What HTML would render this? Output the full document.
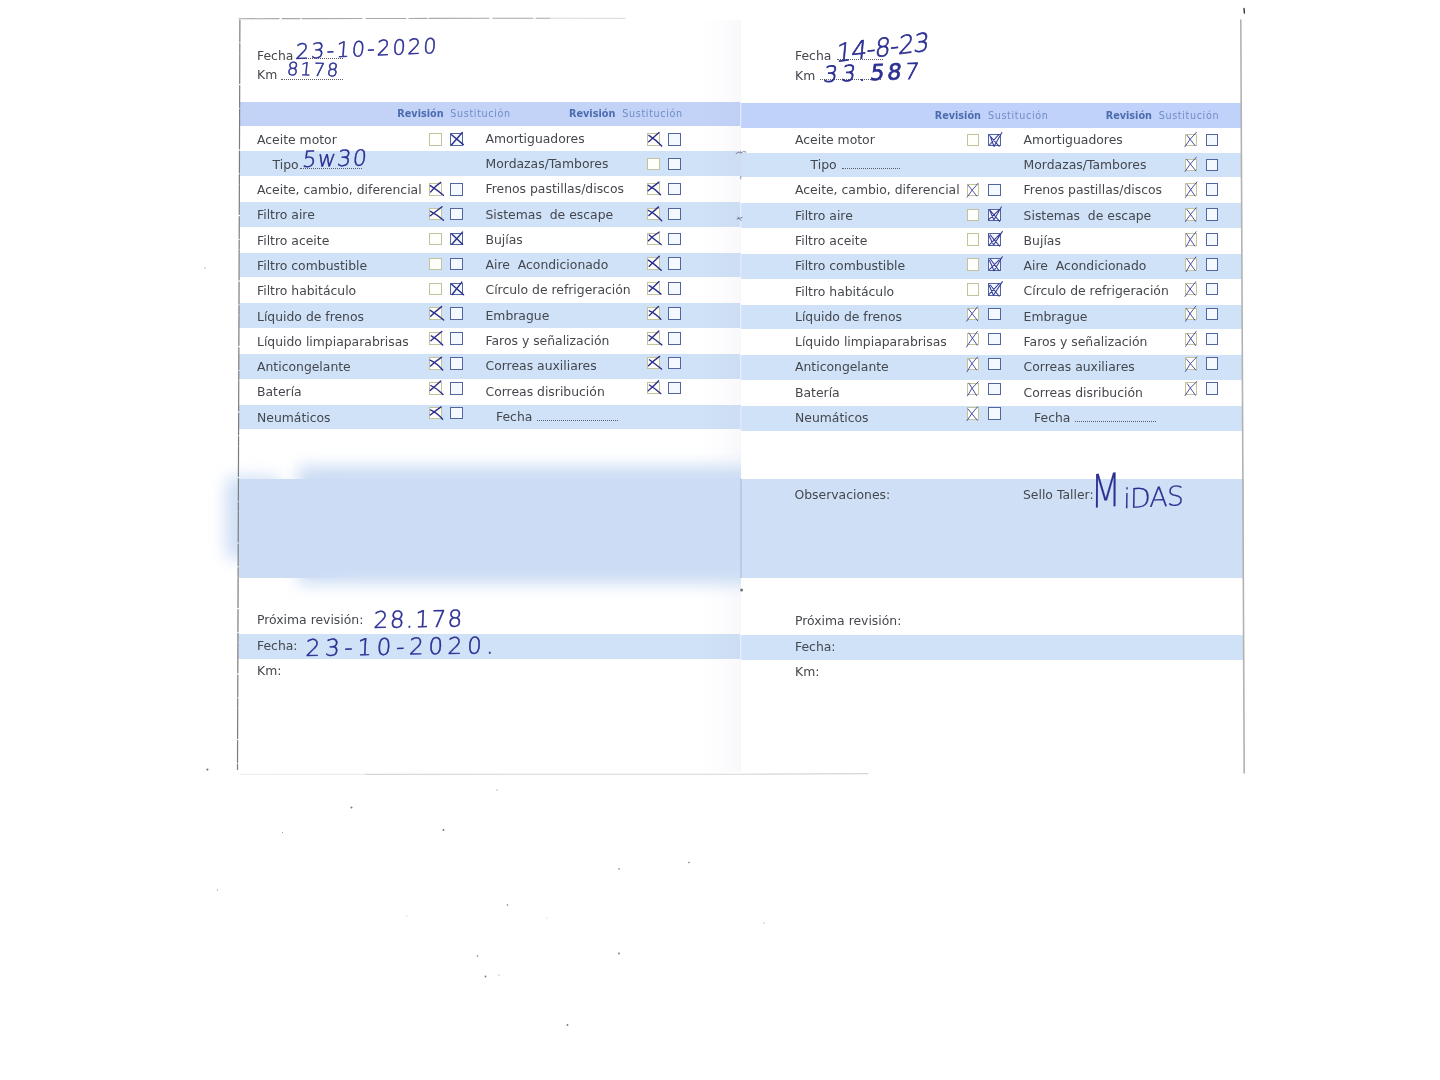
<!DOCTYPE html>
<html lang="es"><head><meta charset="utf-8"><title>Libro de mantenimiento</title>
<style>
html,body{margin:0;padding:0;background:#fff;}
body{width:1440px;height:1080px;position:relative;overflow:hidden;font-family:"DejaVu Sans","Liberation Sans",sans-serif;color:#44474d;}
.b{position:absolute;}
.hd{background:#c3d3f8;}
.rw{background:#d0e2f7;}
.ob{background:#cfe0f6;}
.t{position:absolute;white-space:nowrap;font-size:12.4px;line-height:20px;height:20px;}
.rv{position:absolute;white-space:nowrap;font-size:9.7px;line-height:14px;font-weight:bold;color:#4a6cae;}
.su{position:absolute;white-space:nowrap;font-size:9.6px;line-height:14px;color:#6f8cc6;letter-spacing:0.65px;}
.cb{position:absolute;width:10.5px;height:10.5px;box-sizing:content-box;}
.cr{border:1.2px solid #c3c29a;background:#fffffb;}
.cs{border:1.3px solid #53659f;background:#f4f9ff;}
.hw{position:absolute;white-space:nowrap;color:#2b2f92;font-weight:200;-webkit-text-stroke:0.55px #2b2f92;font-family:"DejaVu Sans","Liberation Sans",sans-serif;transform-origin:0 100%;}
.dots{position:absolute;border-bottom:1.4px dotted #5a5c66;height:0;}
svg{position:absolute;left:0;top:0;}
</style></head><body>

<div class="b hd" style="left:239.9px;top:101.8px;width:500.6px;height:24.7px;"></div>
<div class="b hd" style="left:740.5px;top:103.0px;width:501.0px;height:24.7px;background:#c1d2fa;"></div>
<div class="b rw" style="left:239.8px;top:151.3px;width:500.7px;height:24.8px;"></div>
<div class="b rw" style="left:740.5px;top:152.5px;width:501.0px;height:24.8px;"></div>
<div class="b rw" style="left:239.6px;top:202.0px;width:500.9px;height:24.8px;"></div>
<div class="b rw" style="left:740.5px;top:203.2px;width:501.3px;height:24.8px;"></div>
<div class="b rw" style="left:239.5px;top:252.7px;width:501.0px;height:24.8px;"></div>
<div class="b rw" style="left:740.5px;top:253.9px;width:501.6px;height:24.8px;"></div>
<div class="b rw" style="left:239.3px;top:303.4px;width:501.2px;height:24.8px;"></div>
<div class="b rw" style="left:740.5px;top:304.6px;width:501.9px;height:24.8px;"></div>
<div class="b rw" style="left:239.1px;top:354.1px;width:501.4px;height:24.8px;"></div>
<div class="b rw" style="left:740.5px;top:355.3px;width:502.2px;height:24.8px;"></div>
<div class="b rw" style="left:239.0px;top:404.7px;width:501.5px;height:24.8px;"></div>
<div class="b rw" style="left:740.5px;top:405.9px;width:502.5px;height:24.8px;"></div>
<div class="b ob" style="left:740.5px;top:478.8px;width:503.0px;height:99.6px;"></div>
<div class="b rw" style="left:238.2px;top:634.4px;width:502.3px;height:24.4px;"></div>
<div class="b rw" style="left:740.5px;top:635.3px;width:503.5px;height:24.8px;"></div>
<div class="b" style="left:700px;top:20px;width:41px;height:752px;background:linear-gradient(to right,rgba(110,110,170,0) 0,rgba(120,110,175,0.02) 55%,rgba(105,105,170,0.045) 100%);"></div>
<div class="b" style="left:205px;top:430px;width:536px;height:190px;overflow:hidden;"><div class="b" style="left:93px;top:36px;width:520px;height:118px;background:#cbdcf4;filter:blur(8px);"></div><div class="b" style="left:20px;top:46px;width:56px;height:84px;background:#cbdcf4;filter:blur(8px);border-radius:12px;opacity:0.9;"></div><div class="b" style="left:34px;top:49px;width:120px;height:98.5px;background:linear-gradient(to right,#cbdcf4 0,#cbdcf4 55%,rgba(203,220,244,0) 100%);"></div></div>
<div class="t" style="left:257.0px;top:45.5px;">Fecha</div>
<div class="t" style="left:257.0px;top:65.0px;">Km</div>
<div class="rv" style="left:397.3px;top:107.2px;">Revisión</div>
<div class="su" style="left:450.3px;top:107.2px;">Sustitución</div>
<div class="rv" style="left:569.0px;top:107.2px;">Revisión</div>
<div class="su" style="left:622.3px;top:107.2px;">Sustitución</div>
<div class="t" style="left:257.0px;top:129.5px;">Aceite motor</div>
<div class="t" style="left:485.5px;top:128.6px;">Amortiguadores</div>
<div class="cb cr" style="left:429.3px;top:133.2px"></div>
<div class="cb cs" style="left:450.2px;top:133.2px"></div>
<div class="cb cr" style="left:647.2px;top:133.0px"></div>
<div class="cb cs" style="left:668.4px;top:133.0px"></div>
<div class="t" style="left:272.5px;top:154.8px;">Tipo</div>
<div class="t" style="left:485.5px;top:153.9px;">Mordazas/Tambores</div>
<div class="cb cr" style="left:647.2px;top:157.9px"></div>
<div class="cb cs" style="left:668.4px;top:157.9px"></div>
<div class="t" style="left:257.0px;top:180.1px;">Aceite, cambio, diferencial</div>
<div class="t" style="left:485.5px;top:179.2px;">Frenos pastillas/discos</div>
<div class="cb cr" style="left:429.3px;top:183.0px"></div>
<div class="cb cs" style="left:450.2px;top:183.0px"></div>
<div class="cb cr" style="left:647.2px;top:182.8px"></div>
<div class="cb cs" style="left:668.4px;top:182.8px"></div>
<div class="t" style="left:257.0px;top:205.4px;">Filtro aire</div>
<div class="t" style="left:485.5px;top:204.5px;">Sistemas&nbsp; de escape</div>
<div class="cb cr" style="left:429.3px;top:207.8px"></div>
<div class="cb cs" style="left:450.2px;top:207.8px"></div>
<div class="cb cr" style="left:647.2px;top:207.6px"></div>
<div class="cb cs" style="left:668.4px;top:207.6px"></div>
<div class="t" style="left:257.0px;top:230.7px;">Filtro aceite</div>
<div class="t" style="left:485.5px;top:229.8px;">Bujías</div>
<div class="cb cr" style="left:429.3px;top:232.7px"></div>
<div class="cb cs" style="left:450.2px;top:232.7px"></div>
<div class="cb cr" style="left:647.2px;top:232.5px"></div>
<div class="cb cs" style="left:668.4px;top:232.5px"></div>
<div class="t" style="left:257.0px;top:255.9px;">Filtro combustible</div>
<div class="t" style="left:485.5px;top:255.1px;">Aire&nbsp; Acondicionado</div>
<div class="cb cr" style="left:429.3px;top:257.6px"></div>
<div class="cb cs" style="left:450.2px;top:257.6px"></div>
<div class="cb cr" style="left:647.2px;top:257.4px"></div>
<div class="cb cs" style="left:668.4px;top:257.4px"></div>
<div class="t" style="left:257.0px;top:281.2px;">Filtro habitáculo</div>
<div class="t" style="left:485.5px;top:280.3px;">Círculo de refrigeración</div>
<div class="cb cr" style="left:429.3px;top:282.5px"></div>
<div class="cb cs" style="left:450.2px;top:282.5px"></div>
<div class="cb cr" style="left:647.2px;top:282.3px"></div>
<div class="cb cs" style="left:668.4px;top:282.3px"></div>
<div class="t" style="left:257.0px;top:306.5px;">Líquido de frenos</div>
<div class="t" style="left:485.5px;top:305.6px;">Embrague</div>
<div class="cb cr" style="left:429.3px;top:307.4px"></div>
<div class="cb cs" style="left:450.2px;top:307.4px"></div>
<div class="cb cr" style="left:647.2px;top:307.2px"></div>
<div class="cb cs" style="left:668.4px;top:307.2px"></div>
<div class="t" style="left:257.0px;top:331.8px;">Líquido limpiaparabrisas</div>
<div class="t" style="left:485.5px;top:330.9px;">Faros y señalización</div>
<div class="cb cr" style="left:429.3px;top:332.2px"></div>
<div class="cb cs" style="left:450.2px;top:332.2px"></div>
<div class="cb cr" style="left:647.2px;top:332.0px"></div>
<div class="cb cs" style="left:668.4px;top:332.0px"></div>
<div class="t" style="left:257.0px;top:357.1px;">Anticongelante</div>
<div class="t" style="left:485.5px;top:356.2px;">Correas auxiliares</div>
<div class="cb cr" style="left:429.3px;top:357.1px"></div>
<div class="cb cs" style="left:450.2px;top:357.1px"></div>
<div class="cb cr" style="left:647.2px;top:356.9px"></div>
<div class="cb cs" style="left:668.4px;top:356.9px"></div>
<div class="t" style="left:257.0px;top:382.4px;">Batería</div>
<div class="t" style="left:485.5px;top:381.5px;">Correas disribución</div>
<div class="cb cr" style="left:429.3px;top:382.0px"></div>
<div class="cb cs" style="left:450.2px;top:382.0px"></div>
<div class="cb cr" style="left:647.2px;top:381.8px"></div>
<div class="cb cs" style="left:668.4px;top:381.8px"></div>
<div class="t" style="left:257.0px;top:407.7px;">Neumáticos</div>
<div class="t" style="left:496.0px;top:406.8px;">Fecha</div>
<div class="cb cr" style="left:429.3px;top:406.9px"></div>
<div class="cb cs" style="left:450.2px;top:406.9px"></div>
<div class="t" style="left:795.0px;top:45.5px;">Fecha</div>
<div class="t" style="left:795.0px;top:65.6px;">Km</div>
<div class="rv" style="left:934.7px;top:108.7px;">Revisión</div>
<div class="su" style="left:988.0px;top:108.7px;">Sustitución</div>
<div class="rv" style="left:1105.7px;top:108.7px;">Revisión</div>
<div class="su" style="left:1158.7px;top:108.7px;">Sustitución</div>
<div class="t" style="left:795.0px;top:129.8px;">Aceite motor</div>
<div class="t" style="left:1023.6px;top:129.7px;">Amortiguadores</div>
<div class="cb cr" style="left:966.6px;top:133.9px"></div>
<div class="cb cs" style="left:988.0px;top:133.9px"></div>
<div class="cb cr" style="left:1184.9px;top:133.7px"></div>
<div class="cb cs" style="left:1205.8px;top:133.7px"></div>
<div class="t" style="left:810.5px;top:155.1px;">Tipo</div>
<div class="t" style="left:1023.6px;top:155.0px;">Mordazas/Tambores</div>
<div class="cb cr" style="left:1184.9px;top:158.6px"></div>
<div class="cb cs" style="left:1205.8px;top:158.6px"></div>
<div class="t" style="left:795.0px;top:180.4px;">Aceite, cambio, diferencial</div>
<div class="t" style="left:1023.6px;top:180.3px;">Frenos pastillas/discos</div>
<div class="cb cr" style="left:966.6px;top:183.6px"></div>
<div class="cb cs" style="left:988.0px;top:183.6px"></div>
<div class="cb cr" style="left:1184.9px;top:183.4px"></div>
<div class="cb cs" style="left:1205.8px;top:183.4px"></div>
<div class="t" style="left:795.0px;top:205.7px;">Filtro aire</div>
<div class="t" style="left:1023.6px;top:205.6px;">Sistemas&nbsp; de escape</div>
<div class="cb cr" style="left:966.6px;top:208.5px"></div>
<div class="cb cs" style="left:988.0px;top:208.5px"></div>
<div class="cb cr" style="left:1184.9px;top:208.3px"></div>
<div class="cb cs" style="left:1205.8px;top:208.3px"></div>
<div class="t" style="left:795.0px;top:231.0px;">Filtro aceite</div>
<div class="t" style="left:1023.6px;top:230.9px;">Bujías</div>
<div class="cb cr" style="left:966.6px;top:233.3px"></div>
<div class="cb cs" style="left:988.0px;top:233.3px"></div>
<div class="cb cr" style="left:1184.9px;top:233.1px"></div>
<div class="cb cs" style="left:1205.8px;top:233.1px"></div>
<div class="t" style="left:795.0px;top:256.2px;">Filtro combustible</div>
<div class="t" style="left:1023.6px;top:256.1px;">Aire&nbsp; Acondicionado</div>
<div class="cb cr" style="left:966.6px;top:258.2px"></div>
<div class="cb cs" style="left:988.0px;top:258.2px"></div>
<div class="cb cr" style="left:1184.9px;top:258.0px"></div>
<div class="cb cs" style="left:1205.8px;top:258.0px"></div>
<div class="t" style="left:795.0px;top:281.5px;">Filtro habitáculo</div>
<div class="t" style="left:1023.6px;top:281.4px;">Círculo de refrigeración</div>
<div class="cb cr" style="left:966.6px;top:283.1px"></div>
<div class="cb cs" style="left:988.0px;top:283.1px"></div>
<div class="cb cr" style="left:1184.9px;top:282.9px"></div>
<div class="cb cs" style="left:1205.8px;top:282.9px"></div>
<div class="t" style="left:795.0px;top:306.8px;">Líquido de frenos</div>
<div class="t" style="left:1023.6px;top:306.7px;">Embrague</div>
<div class="cb cr" style="left:966.6px;top:307.9px"></div>
<div class="cb cs" style="left:988.0px;top:307.9px"></div>
<div class="cb cr" style="left:1184.9px;top:307.7px"></div>
<div class="cb cs" style="left:1205.8px;top:307.7px"></div>
<div class="t" style="left:795.0px;top:332.1px;">Líquido limpiaparabrisas</div>
<div class="t" style="left:1023.6px;top:332.0px;">Faros y señalización</div>
<div class="cb cr" style="left:966.6px;top:332.8px"></div>
<div class="cb cs" style="left:988.0px;top:332.8px"></div>
<div class="cb cr" style="left:1184.9px;top:332.6px"></div>
<div class="cb cs" style="left:1205.8px;top:332.6px"></div>
<div class="t" style="left:795.0px;top:357.4px;">Anticongelante</div>
<div class="t" style="left:1023.6px;top:357.3px;">Correas auxiliares</div>
<div class="cb cr" style="left:966.6px;top:357.6px"></div>
<div class="cb cs" style="left:988.0px;top:357.6px"></div>
<div class="cb cr" style="left:1184.9px;top:357.4px"></div>
<div class="cb cs" style="left:1205.8px;top:357.4px"></div>
<div class="t" style="left:795.0px;top:382.7px;">Batería</div>
<div class="t" style="left:1023.6px;top:382.6px;">Correas disribución</div>
<div class="cb cr" style="left:966.6px;top:382.5px"></div>
<div class="cb cs" style="left:988.0px;top:382.5px"></div>
<div class="cb cr" style="left:1184.9px;top:382.3px"></div>
<div class="cb cs" style="left:1205.8px;top:382.3px"></div>
<div class="t" style="left:795.0px;top:408.0px;">Neumáticos</div>
<div class="t" style="left:1034.1px;top:407.9px;">Fecha</div>
<div class="cb cr" style="left:966.6px;top:407.4px"></div>
<div class="cb cs" style="left:988.0px;top:407.4px"></div>
<div class="dots" style="left:296.0px;top:58.4px;width:47.0px"></div>
<div class="dots" style="left:281.0px;top:78.6px;width:61.5px"></div>
<div class="dots" style="left:300.0px;top:167.6px;width:62.0px"></div>
<div class="dots" style="left:537.0px;top:419.8px;width:81.0px"></div>
<div class="dots" style="left:836.5px;top:59.0px;width:46.0px"></div>
<div class="dots" style="left:820.0px;top:79.2px;width:61.0px"></div>
<div class="dots" style="left:842.0px;top:168.2px;width:58.0px"></div>
<div class="dots" style="left:1075.0px;top:420.6px;width:81.0px"></div>
<div class="t" style="left:257.0px;top:609.9px;">Próxima revisión:</div>
<div class="t" style="left:257.0px;top:636.0px;">Fecha:</div>
<div class="t" style="left:257.0px;top:661.3px;">Km:</div>
<div class="t" style="left:795.0px;top:611.1px;">Próxima revisión:</div>
<div class="t" style="left:795.0px;top:637.0px;">Fecha:</div>
<div class="t" style="left:795.0px;top:662.3px;">Km:</div>
<div class="t" style="left:794.5px;top:484.9px;">Observaciones:</div>
<div class="t" style="left:1023.0px;top:484.9px;">Sello Taller:</div>
<div class="hw" style="left:295.0px;top:40.0px;font-size:21.0px;line-height:24.4px;letter-spacing:2.1px;transform:rotate(-2.4deg) skewX(-6.0deg);">23-10-2020</div>
<div class="hw" style="left:286.0px;top:58.8px;font-size:18.0px;line-height:20.9px;letter-spacing:1.8px;transform:rotate(1.5deg) skewX(-4.0deg);">8178</div>
<div class="hw" style="left:301.0px;top:147.0px;font-size:22.0px;line-height:25.5px;letter-spacing:1.5px;transform:rotate(-1.5deg) skewX(-8.0deg);">5w30</div>
<div class="hw" style="left:373.0px;top:607.1px;font-size:23.0px;line-height:26.7px;letter-spacing:1.6px;transform:rotate(-1.0deg) skewX(-4.0deg);">28.178</div>
<div class="hw" style="left:305.0px;top:634.6px;font-size:23.0px;line-height:26.7px;letter-spacing:4.7px;transform:rotate(-0.8deg) skewX(-4.0deg);">23-10-2020.</div>
<div class="hw" style="left:835.0px;top:38.8px;font-size:25.0px;line-height:29.0px;letter-spacing:-0.6px;transform:rotate(-7.0deg) skewX(-12.0deg);-webkit-text-stroke:0.7px #2b2f92;">14-8-23</div>
<div class="hw" style="left:822.0px;top:61.5px;font-size:22.0px;line-height:25.5px;letter-spacing:3.9px;transform:rotate(-2.0deg) skewX(-10.0deg);-webkit-text-stroke:0.8px #2b2f92;">33.<span style="font-weight:400;-webkit-text-stroke:0.7px #2b2f92;letter-spacing:3.2px;">58</span>7</div>
<div class="hw" style="left:1090.0px;top:479.4px;font-size:27.0px;line-height:31.3px;letter-spacing:-0.8px;transform:rotate(-3.0deg) skewX(-4.0deg);-webkit-text-stroke:0.25px #2b2f92;"><span style="display:inline-block;font-size:46px;line-height:30px;transform:scaleX(0.78) rotate(-1deg);transform-origin:0 100%;margin-right:-6px;position:relative;top:-2px;">M</span>iDAS</div>
<svg width="1440" height="1080" viewBox="0 0 1440 1080" fill="none" stroke-linecap="round" stroke-linejoin="round">
<path d="M239.9 20 L237.5 769.5" stroke="#7c7c7c" stroke-width="1.2" stroke-dasharray="22 1.5 9 1 30 2"/>
<path d="M239 18.7 L550 18.2" stroke="#9a9a9a" stroke-width="1.1" stroke-dasharray="40 3 18 2 60 4" opacity="0.85"/>
<path d="M550 18.2 L625 18.4" stroke="#d8d8d8" stroke-width="1"/>
<path d="M1240.8 20 L1244.2 773" stroke="#b2b2b2" stroke-width="1.6"/>
<path d="M1244 8.5 L1244.4 13" stroke="#333" stroke-width="1.4"/>
<path d="M240 774.2 L366 774.4" stroke="#ececec" stroke-width="1.1"/>
<path d="M366 774.4 L740 774.2 L868 773.6" stroke="#d6d6d6" stroke-width="1.1"/>
<path d="M741 479 L741 577.5" stroke="#a9b7d2" stroke-width="1"/>
<path d="M740.7 151 L740.7 179" stroke="#8f97ab" stroke-width="1"/>
<path d="M740.8 152.3 L740.8 175.3" stroke="#e3ecfb" stroke-width="1.2"/>
<path d="M740.8 203.2 L740.8 226.2" stroke="#e3ecfb" stroke-width="1.2"/>
<path d="M740.8 254.1 L740.8 277.1" stroke="#e3ecfb" stroke-width="1.2"/>
<path d="M740.8 304.9 L740.8 327.9" stroke="#e3ecfb" stroke-width="1.2"/>
<path d="M740.8 355.8 L740.8 378.8" stroke="#e3ecfb" stroke-width="1.2"/>
<path d="M740.8 406.7 L740.8 429.7" stroke="#e3ecfb" stroke-width="1.2"/>
<path d="M740.8 102.5 L740.8 126" stroke="#dbe5fb" stroke-width="1.2"/>
<path d="M740.8 635 L740.8 659" stroke="#e3ecfb" stroke-width="1.2"/>
<path d="M451.5 134.7 L463.4 144.6 M462.3 132.5 L451.6 144.7" stroke="#2a2e8c" stroke-width="1.40" opacity="1.00"/>
<path d="M440.7 182.4 Q434.7 186.4 430.7 191.9 M430.3 185.6 Q437.5 190.1 443.4 195.3" stroke="#2a2e8c" stroke-width="1.40" opacity="1.00"/>
<path d="M442.0 206.7 Q435.8 211.5 430.3 215.8 M430.5 211.3 Q436.9 214.5 443.5 220.2" stroke="#2a2e8c" stroke-width="1.40" opacity="1.00"/>
<path d="M451.8 234.1 L462.6 244.3 M462.5 232.1 L451.9 244.3" stroke="#2a2e8c" stroke-width="1.40" opacity="1.00"/>
<path d="M451.6 284.2 L463.6 294.8 M461.8 282.1 L452.2 294.5" stroke="#2a2e8c" stroke-width="1.40" opacity="1.00"/>
<path d="M441.6 306.6 Q436.0 310.8 430.7 316.2 M430.3 310.3 Q436.7 314.1 443.7 320.0" stroke="#2a2e8c" stroke-width="1.40" opacity="1.00"/>
<path d="M441.8 331.5 Q435.6 336.4 430.9 340.7 M431.3 335.9 Q437.3 339.0 442.7 345.0" stroke="#2a2e8c" stroke-width="1.40" opacity="1.00"/>
<path d="M441.5 357.3 Q435.8 360.8 430.6 365.9 M430.1 360.1 Q436.8 363.1 442.7 370.0" stroke="#2a2e8c" stroke-width="1.40" opacity="1.00"/>
<path d="M440.8 381.1 Q435.1 386.5 430.2 390.4 M430.9 385.5 Q437.7 389.0 443.0 394.4" stroke="#2a2e8c" stroke-width="1.40" opacity="1.00"/>
<path d="M441.1 406.9 Q435.9 410.4 430.3 415.0 M430.4 409.9 Q437.4 413.0 442.6 419.3" stroke="#2a2e8c" stroke-width="1.40" opacity="1.00"/>
<path d="M659.0 132.6 Q653.8 137.3 648.7 141.7 M648.9 135.4 Q655.8 139.9 661.7 145.9" stroke="#2a2e8c" stroke-width="1.40" opacity="1.00"/>
<path d="M659.0 182.1 Q652.6 186.9 648.1 190.7 M648.3 185.3 Q655.0 188.6 660.5 194.8" stroke="#2a2e8c" stroke-width="1.40" opacity="1.00"/>
<path d="M658.6 206.9 Q652.5 212.2 648.9 215.6 M648.4 210.4 Q655.0 213.6 661.7 220.8" stroke="#2a2e8c" stroke-width="1.40" opacity="1.00"/>
<path d="M659.2 232.0 Q652.6 236.0 648.5 240.7 M649.2 235.0 Q654.5 239.7 661.2 244.5" stroke="#2a2e8c" stroke-width="1.40" opacity="1.00"/>
<path d="M659.3 256.2 Q653.2 262.1 649.2 266.2 M648.4 260.2 Q654.7 264.3 661.2 270.3" stroke="#2a2e8c" stroke-width="1.40" opacity="1.00"/>
<path d="M659.0 281.4 Q653.6 287.0 649.2 291.2 M649.1 285.6 Q654.8 288.8 661.0 294.1" stroke="#2a2e8c" stroke-width="1.40" opacity="1.00"/>
<path d="M658.5 306.4 Q652.9 311.4 649.3 315.6 M649.3 310.8 Q655.8 313.5 660.8 319.3" stroke="#2a2e8c" stroke-width="1.40" opacity="1.00"/>
<path d="M658.8 331.1 Q653.4 336.6 649.2 340.5 M648.9 335.5 Q654.6 338.8 661.8 344.9" stroke="#2a2e8c" stroke-width="1.40" opacity="1.00"/>
<path d="M659.6 356.4 Q652.7 361.3 648.5 365.8 M649.4 359.8 Q655.1 364.0 661.5 369.0" stroke="#2a2e8c" stroke-width="1.40" opacity="1.00"/>
<path d="M658.7 380.8 Q653.8 386.2 648.2 390.8 M649.4 385.0 Q655.0 388.4 660.7 393.6" stroke="#2a2e8c" stroke-width="1.40" opacity="1.00"/>
<path d="M990.2 136.1 L994.0 146.5 L1001.9 132.4 M989.5 145.0 L998.7 134.6 M989.6 135.5 L999.2 146.3" stroke="#2f3494" stroke-width="1.05" opacity="0.95"/>
<path d="M968.1 185.2 L976.9 196.1 M978.2 183.2 Q971.5 190.2 967.1 197.2" stroke="#3b3f9c" stroke-width="1.00" opacity="0.90"/>
<path d="M989.5 209.8 L993.9 220.0 L1001.3 206.9 M988.5 219.9 L999.3 209.6 M989.8 210.0 L999.6 221.4" stroke="#2f3494" stroke-width="1.05" opacity="0.95"/>
<path d="M988.9 235.4 L993.6 245.0 L1002.4 231.4 M989.1 245.2 L999.6 234.3 M990.2 234.8 L999.5 246.1" stroke="#2f3494" stroke-width="1.05" opacity="0.95"/>
<path d="M989.4 260.2 L994.0 270.8 L1002.3 256.7 M989.6 269.4 L999.1 259.8 M990.5 259.2 L999.0 270.6" stroke="#2f3494" stroke-width="1.05" opacity="0.95"/>
<path d="M988.9 284.7 L993.4 295.3 L1002.4 281.6 M988.5 294.9 L999.2 283.6 M990.5 285.2 L999.1 296.2" stroke="#2f3494" stroke-width="1.05" opacity="0.95"/>
<path d="M968.5 308.9 L977.8 320.9 M977.6 306.8 Q971.6 313.7 966.7 321.2" stroke="#3b3f9c" stroke-width="1.00" opacity="0.90"/>
<path d="M968.9 333.1 L977.2 345.2 M977.4 331.5 Q971.8 338.8 966.5 347.0" stroke="#3b3f9c" stroke-width="1.00" opacity="0.90"/>
<path d="M969.0 359.3 L976.5 369.8 M977.5 357.0 Q971.3 363.1 967.0 371.7" stroke="#3b3f9c" stroke-width="1.00" opacity="0.90"/>
<path d="M969.0 383.2 L976.6 395.6 M978.2 381.8 Q971.0 387.9 967.4 395.9" stroke="#3b3f9c" stroke-width="1.00" opacity="0.90"/>
<path d="M968.0 409.0 L977.3 420.3 M977.5 406.9 Q971.0 413.9 967.0 420.6" stroke="#3b3f9c" stroke-width="1.00" opacity="0.90"/>
<path d="M1187.0 135.3 L1195.1 145.7 M1196.4 132.3 Q1189.4 139.2 1184.8 146.8" stroke="#3b3f9c" stroke-width="1.00" opacity="0.90"/>
<path d="M1186.6 159.3 L1195.8 170.8 M1196.4 157.1 Q1189.7 163.9 1185.1 171.4" stroke="#3b3f9c" stroke-width="1.00" opacity="0.90"/>
<path d="M1187.2 184.5 L1195.0 195.9 M1197.0 181.9 Q1190.3 189.3 1185.4 197.4" stroke="#3b3f9c" stroke-width="1.00" opacity="0.90"/>
<path d="M1186.8 209.3 L1195.7 221.5 M1196.2 207.7 Q1190.2 214.5 1185.3 221.6" stroke="#3b3f9c" stroke-width="1.00" opacity="0.90"/>
<path d="M1186.3 233.6 L1194.8 246.0 M1196.1 231.7 Q1189.3 239.6 1185.9 246.9" stroke="#3b3f9c" stroke-width="1.00" opacity="0.90"/>
<path d="M1186.6 258.6 L1195.1 270.4 M1195.9 256.9 Q1189.6 264.6 1186.1 271.6" stroke="#3b3f9c" stroke-width="1.00" opacity="0.90"/>
<path d="M1186.5 284.5 L1195.1 295.2 M1195.7 281.7 Q1189.9 288.9 1185.0 296.4" stroke="#3b3f9c" stroke-width="1.00" opacity="0.90"/>
<path d="M1186.2 308.4 L1194.8 320.1 M1195.8 306.1 Q1189.6 313.3 1185.5 321.3" stroke="#3b3f9c" stroke-width="1.00" opacity="0.90"/>
<path d="M1187.3 333.8 L1195.7 345.6 M1196.2 331.3 Q1190.6 338.1 1185.7 346.3" stroke="#3b3f9c" stroke-width="1.00" opacity="0.90"/>
<path d="M1186.3 358.9 L1195.9 370.1 M1196.7 356.9 Q1189.4 363.5 1185.4 371.4" stroke="#3b3f9c" stroke-width="1.00" opacity="0.90"/>
<path d="M1187.3 383.8 L1195.5 395.3 M1196.7 381.6 Q1189.5 387.6 1184.9 395.6" stroke="#3b3f9c" stroke-width="1.00" opacity="0.90"/>
<circle cx="207.4" cy="769.6" r="1.1" fill="#777" stroke="none"/>
<circle cx="351.5" cy="807.5" r="1.0" fill="#777" stroke="none"/>
<circle cx="443.5" cy="830.0" r="1.0" fill="#777" stroke="none"/>
<circle cx="497.0" cy="790.0" r="0.6" fill="#777" stroke="none"/>
<circle cx="619.0" cy="869.0" r="0.8" fill="#777" stroke="none"/>
<circle cx="689.0" cy="862.5" r="0.8" fill="#777" stroke="none"/>
<circle cx="507.5" cy="905.0" r="0.8" fill="#777" stroke="none"/>
<circle cx="477.5" cy="956.0" r="0.8" fill="#777" stroke="none"/>
<circle cx="619.0" cy="953.5" r="0.9" fill="#777" stroke="none"/>
<circle cx="485.5" cy="976.5" r="0.9" fill="#777" stroke="none"/>
<circle cx="499.0" cy="975.0" r="0.5" fill="#777" stroke="none"/>
<circle cx="567.5" cy="1025.0" r="0.9" fill="#777" stroke="none"/>
<circle cx="282.5" cy="832.5" r="0.5" fill="#777" stroke="none"/>
<circle cx="217.5" cy="890.0" r="0.6" fill="#777" stroke="none"/>
<circle cx="741.6" cy="590.0" r="1.5" fill="#777" stroke="none"/>
<circle cx="205.0" cy="268.0" r="0.6" fill="#777" stroke="none"/>
<circle cx="764.0" cy="923.0" r="0.5" fill="#777" stroke="none"/>
<circle cx="547.0" cy="918.0" r="0.4" fill="#777" stroke="none"/>
<circle cx="407.0" cy="916.0" r="0.4" fill="#777" stroke="none"/>
<path d="M736 153.5 q2.5 -2.5 5 -0.5 q2.5 -2.5 5 -1" stroke="#7d8296" stroke-width="1"/>
<path d="M737 219 l5 -1.5 M738 217 l3 3.5" stroke="#777c92" stroke-width="1"/>
</svg>
</body></html>
